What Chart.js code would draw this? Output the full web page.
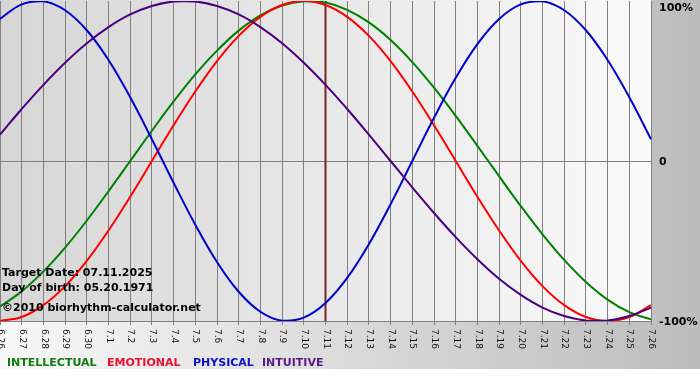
<!DOCTYPE html>
<html>
<head>
<meta charset="utf-8">
<script src="https://cdn.jsdelivr.net/npm/chart.js@4"></script>
<style>
html,body{margin:0;padding:0;background:#fff;}
#c{display:block;}
</style>
</head>
<body>
<canvas id="c" width="700" height="380"></canvas>
<script>
const dayLabels = ['6.26','6.27','6.28','6.29','6.30','7.1','7.2','7.3','7.4','7.5','7.6','7.7','7.8','7.9','7.10','7.11','7.12','7.13','7.14','7.15','7.16','7.17','7.18','7.19','7.20','7.21','7.22','7.23','7.24','7.25','7.26'];
const intellectual = [-91.0,-81.5,-69.0,-54.1,-37.2,-18.9,0,18.9,37.2,54.1,69.0,81.5,91.0,97.2,99.9,99.0,94.5,86.6,75.6,61.8,45.8,28.2,9.5,-9.5,-28.2,-45.8,-61.8,-75.6,-86.6,-94.5,-99.0];
const emotional = [-100,-97.5,-90.1,-78.2,-62.4,-43.4,-22.3,0,22.3,43.4,62.4,78.2,90.1,97.5,100,97.5,90.1,78.2,62.4,43.4,22.3,0,-22.3,-43.4,-62.4,-78.2,-90.1,-97.5,-100,-97.5,-90.1];
const physical = [88.8,97.9,99.8,94.2,81.7,63.1,39.8,13.6,-13.6,-39.8,-63.1,-81.7,-94.2,-99.8,-97.9,-88.8,-73.1,-52.0,-27.0,0,27.0,52.0,73.1,88.8,97.9,99.8,94.2,81.7,63.1,39.8,13.6];
const intuitive = [16.5,32.5,47.6,61.4,73.6,83.7,91.6,96.9,99.7,99.7,96.9,91.6,83.7,73.6,61.4,47.6,32.5,16.5,0,-16.5,-32.5,-47.6,-61.4,-73.6,-83.7,-91.6,-96.9,-99.7,-99.7,-96.9,-91.6];
const yTickLabels = ['100%','0','-100%'];
const yTickValues = [100,0,-100];
const targetIndex = 15;
const infoLines = ['Target Date: 07.11.2025','Day of birth: 05.20.1971','\u00A92010 biorhythm-calculator.net'];
const legendNames = ['INTELLECTUAL','EMOTIONAL','PHYSICAL','INTUITIVE'];

const lineColors = ['#008000','#ff0000','#0000cc','#4b0082'];
const legendColors = ['#107a10','#ee1030','#1010cc','#5a1a8a'];
const BOLD = 'bold 11px "DejaVu Sans", Verdana, sans-serif';

const decor = {
  id: 'decor',
  beforeDraw(chart) {
    const ctx = chart.ctx, a = chart.chartArea;
    ctx.save();
    ctx.fillStyle = '#ffffff';
    ctx.fillRect(0, 0, 700, 380);
    let g = ctx.createLinearGradient(0, 0, 700, 0);
    g.addColorStop(0, '#f8f8f8');
    g.addColorStop(1, '#bcbcbc');
    ctx.fillStyle = g;
    ctx.fillRect(0, 0, 700, 369);
    g = ctx.createLinearGradient(a.left, 0, a.right, 0);
    g.addColorStop(0, '#d6d6d6');
    g.addColorStop(1, '#fafafa');
    ctx.fillStyle = g;
    ctx.fillRect(a.left, a.top - 1, a.right - a.left, a.bottom - a.top + 1);
    ctx.restore();
  },
  beforeDatasetsDraw(chart) {
    const ctx = chart.ctx, a = chart.chartArea;
    const x = chart.scales.x.getPixelForValue(targetIndex);
    ctx.save();
    ctx.strokeStyle = '#7a2424';
    ctx.lineWidth = 2;
    ctx.beginPath();
    ctx.moveTo(x, a.top);
    ctx.lineTo(x, a.bottom);
    ctx.stroke();
    ctx.restore();
  },
  afterDatasetsDraw(chart) {
    const ctx = chart.ctx, a = chart.chartArea;
    const xs = chart.scales.x, ys = chart.scales.y;
    ctx.save();
    ctx.fillStyle = '#111';
    ctx.font = '9px "DejaVu Sans", Verdana, sans-serif';
    ctx.textAlign = 'left';
    ctx.textBaseline = 'middle';
    dayLabels.forEach((lab, i) => {
      const x = xs.getPixelForValue(i);
      ctx.save();
      ctx.translate(x + 0.5, a.bottom + 8);
      ctx.rotate(Math.PI / 2);
      ctx.fillText(lab, 0, 0);
      ctx.restore();
    });
    ctx.font = BOLD;
    ctx.fillStyle = '#000';
    ctx.textBaseline = 'middle';
    yTickValues.forEach((v, i) => {
      let y = ys.getPixelForValue(v);
      if (i === 0) y = Math.max(y, 7);
      ctx.fillText(yTickLabels[i], a.right + 8, y + 1);
    });
    ctx.textBaseline = 'alphabetic';
    ctx.fillStyle = '#000';
    const infoY = [276, 291, 311];
    infoLines.forEach((t, i) => ctx.fillText(t, 2, infoY[i]));
    const legendX = [7, 107, 193, 262];
    legendNames.forEach((t, i) => {
      ctx.fillStyle = legendColors[i];
      ctx.fillText(t, legendX[i], 366);
    });
    ctx.restore();
  }
};

const ds = (label, data, i, order) => ({
  label, data,
  borderColor: lineColors[i],
  backgroundColor: lineColors[i],
  borderWidth: 2,
  pointRadius: 0,
  tension: 0.4,
  fill: false,
  order
});

new Chart(document.getElementById('c'), {
  type: 'line',
  data: {
    labels: dayLabels,
    datasets: [
      ds(legendNames[0], intellectual, 0, 4),
      ds(legendNames[1], emotional, 1, 3),
      ds(legendNames[2], physical, 2, 2),
      ds(legendNames[3], intuitive, 3, 1)
    ]
  },
  options: {
    responsive: false,
    devicePixelRatio: 1,
    animation: false,
    layout: { padding: { left: 0, right: 49, top: 1, bottom: 55 } },
    plugins: { legend: { display: false }, tooltip: { enabled: false } },
    scales: {
      x: {
        offset: false,
        grid: { color: '#808080', lineWidth: 1, drawTicks: true, tickLength: 4, offset: false },
        border: { display: false },
        ticks: { display: false, autoSkip: false }
      },
      y: {
        min: -100, max: 100,
        ticks: { display: false, stepSize: 100 },
        grid: { color: (c) => c.tick && c.tick.value === 100 ? 'rgba(0,0,0,0)' : '#808080', drawTicks: false },
        border: { display: false }
      }
    }
  },
  plugins: [decor]
});
</script>
</body>
</html>
